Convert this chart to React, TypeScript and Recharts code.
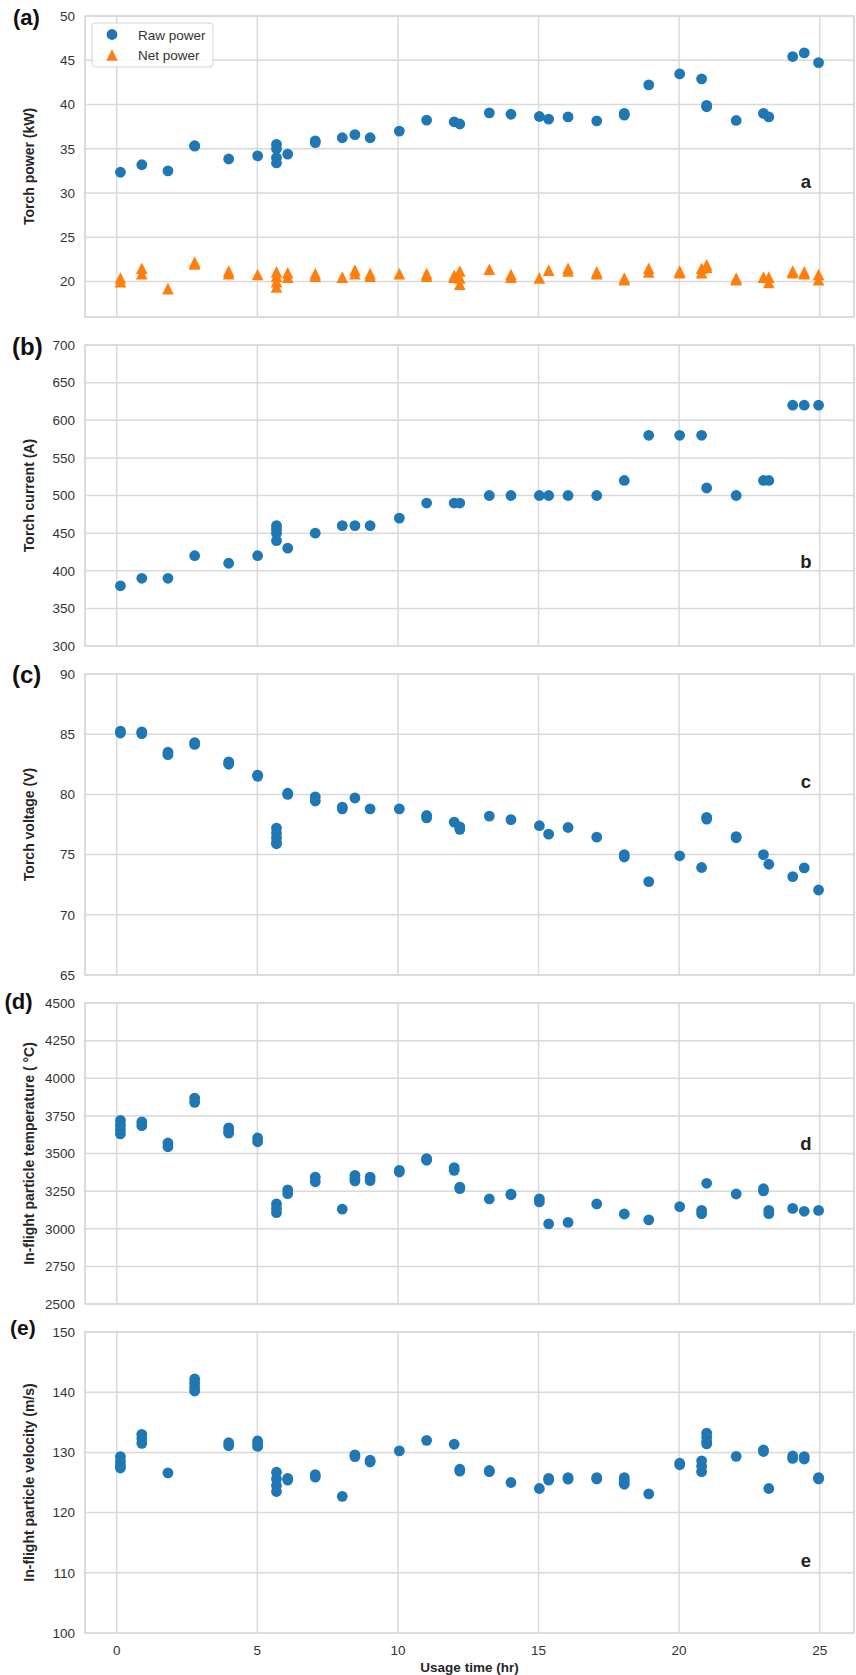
import React from "react";
import { ScatterChart, Scatter, XAxis, YAxis, CartesianGrid, ReferenceArea, ReferenceDot } from "recharts";

// usage time (hr) of each measurement session
const times = [
  0.13, 0.89, 1.82, 2.77, 3.98, 5.01, 5.68, 6.08, 7.06, 8.02, 8.47, 9.01, 10.05, 11.02, 12.0, 12.2, 13.25,
  14.02, 15.03, 15.36, 16.05, 17.07, 18.05, 18.92, 20.02, 20.8, 20.98, 22.03, 23.0, 23.19, 24.04, 24.45, 24.96,
];

// readings per session (several repeats overlap)
const rawPower = [
  [32.35], [33.2], [32.5], [35.35, 35.3], [33.85], [34.2], [35.5, 35.0, 34.0, 33.4], [34.4], [35.9, 35.7],
  [36.25], [36.6], [36.25], [37.0], [38.24], [38.05], [37.8], [39.06], [38.9], [38.65], [38.35], [38.6],
  [38.16], [39.0, 38.8], [42.22], [43.46], [42.9], [39.9, 39.75], [38.2], [39.0], [38.6], [45.42], [45.83], [44.74],
];
const netPower = [
  [20.4, 20.0], [21.5, 20.9], [19.2], [22.2, 22.0], [21.2, 20.9], [20.8], [21.1, 20.6, 20.0, 19.4], [21.0, 20.5],
  [20.9, 20.6], [20.5], [21.3, 20.9], [20.9, 20.6], [20.9], [20.9, 20.6], [20.7, 20.5], [21.2, 20.4, 19.7], [21.4],
  [20.8, 20.5], [20.4], [21.3], [21.5, 21.2], [21.1, 20.9], [20.4, 20.2], [21.5, 21.1], [21.2, 21.0], [21.5, 21.0],
  [21.9, 21.6], [20.4, 20.2], [20.5], [20.5, 19.9], [21.2, 21.0], [21.1, 20.9], [20.8, 20.2],
];
const current = [
  [380], [390], [390], [420], [410], [420], [460, 455, 450, 440], [430], [450], [460], [460], [460], [470], [490],
  [490], [490], [500], [500], [500], [500], [500], [500], [520], [580], [580], [580], [510], [500], [520], [520],
  [620], [620], [620],
];
const voltage = [
  [85.25, 85.1], [85.2, 85.05], [83.5, 83.3], [84.3, 84.15], [82.7, 82.5], [81.6, 81.5], [77.2, 76.8, 76.4, 76.0, 75.9],
  [80.1, 80.0], [79.8, 79.45], [78.95, 78.8], [79.7], [78.8], [78.8], [78.25, 78.05], [77.7], [77.3, 77.1], [78.2],
  [77.9], [77.4], [76.7], [77.25], [76.45], [75.0, 74.8], [72.75], [74.9], [73.93], [78.1, 77.95], [76.5, 76.4],
  [75.0], [74.2], [73.17], [73.9], [72.06],
];
const temperature = [
  [3720, 3690, 3660, 3630], [3710, 3685], [3570, 3545], [3868, 3840], [3670, 3650, 3635], [3603, 3578],
  [3165, 3135, 3107], [3258, 3233], [3343, 3312], [3130], [3355, 3335, 3318], [3343, 3320], [3388, 3377],
  [3466, 3455], [3406, 3388], [3277, 3266], [3198], [3230, 3226], [3199, 3178], [3032], [3042], [3165], [3098],
  [3059], [3147], [3122, 3100], [3302], [3231], [3266, 3252], [3122, 3100], [3135], [3116], [3122],
];
const velocity = [
  [129.3, 128.5, 127.8, 127.4], [133.0, 132.3, 131.5], [126.6], [142.2, 141.5, 140.8, 140.2], [131.6, 131.1],
  [131.9, 131.4, 131.0], [126.7, 125.6, 124.5, 123.5], [125.7, 125.4], [126.3, 125.9], [122.7], [129.6, 129.3],
  [128.7, 128.4], [130.25], [132.0], [131.35], [127.2, 126.9], [127.0, 126.8], [125.0], [124.0], [125.7, 125.4],
  [125.8, 125.55], [125.8, 125.6], [125.8, 125.2, 124.7], [123.1], [128.2, 127.95], [128.6, 127.7, 126.8],
  [133.2, 132.5, 131.8, 131.4], [129.35], [130.4, 130.15], [124.0], [129.4, 129.0], [129.3, 128.9], [125.8, 125.6],
];

const xTicks = [0, 5, 10, 15, 20, 25];
const powerTicks = [20, 25, 30, 35, 40, 45, 50];
const currentTicks = [300, 350, 400, 450, 500, 550, 600, 650, 700];
const voltageTicks = [65, 70, 75, 80, 85, 90];
const tempTicks = [2500, 2750, 3000, 3250, 3500, 3750, 4000, 4250, 4500];
const velocityTicks = [100, 110, 120, 130, 140, 150];

const BLUE = "#1f77b4";
const ORANGE = "#ff7f0e";
const GRID = "#d9d9d9";
const FONT = '"Liberation Sans", Arial, Helvetica, sans-serif';
const X_DOMAIN: [number, number] = [-1.13, 26.22];
const NOTE_X = 24.51;

function toRows(values: number[][]) {
  return times.flatMap((t, i) => values[i].map((v) => ({ t, v })));
}

const circle = (fill: string) => (p: any) => <circle cx={p.cx} cy={p.cy} r={5.4} fill={fill} />;
const triangle = (fill: string) => (p: any) => {
  const s = 5.8;
  return <polygon points={`${p.cx},${p.cy - s} ${p.cx - s},${p.cy + s} ${p.cx + s},${p.cy + s}`} fill={fill} />;
};
const noTick = () => <g />;

const yTitle = (text: string) => (p: any) => {
  const vb = p.viewBox;
  const cy = vb.y + vb.height / 2;
  return (
    <text x={34} y={cy} transform={`rotate(-90, 34, ${cy})`} textAnchor="middle" fontSize={14}
      fontWeight="bold" fill="#262626" fontFamily={FONT}>
      {text}
    </text>
  );
};

const xTitle = (p: any) => {
  const vb = p.viewBox;
  return (
    <text x={vb.x + vb.width / 2} y={vb.y + 38.5} textAnchor="middle" fontSize={13.5} fontWeight="bold"
      fill="#262626" fontFamily={FONT}>
      Usage time (hr)
    </text>
  );
};

type Series = { values: number[][]; color: string; kind: "circle" | "triangle"; name: string };

function Panel(props: {
  tag: string; tagX: number; tagY: number; tagSize: number; title: string;
  domain: [number, number]; ticks: number[]; series: Series[]; note: string; noteY: number;
  bottomAxis?: boolean; legend?: boolean;
}) {
  const h = props.bottomAxis ? 359 : 329;
  const tickStyle = { fontSize: 13.5, fill: "#333", fontFamily: FONT };
  return (
    <div style={{ position: "relative", width: 856, height: h }}>
      <ScatterChart width={856} height={h} margin={{ top: 16, right: 2, left: 0, bottom: props.bottomAxis ? 0 : 11 }}>
        <CartesianGrid stroke={GRID} strokeWidth={1.5} />
        <XAxis dataKey="t" type="number" domain={X_DOMAIN} allowDataOverflow ticks={xTicks}
          height={props.bottomAxis ? 42 : 1} tick={props.bottomAxis ? tickStyle : noTick}
          tickLine={false} axisLine={false} tickSize={6} tickMargin={6}
          label={props.bottomAxis ? xTitle : undefined} />
        <YAxis dataKey="v" type="number" domain={props.domain} allowDataOverflow ticks={props.ticks}
          width={85} tick={tickStyle} tickLine={false} axisLine={false} tickSize={6} tickMargin={4}
          label={yTitle(props.title)} />
        <ReferenceArea x1={X_DOMAIN[0]} x2={X_DOMAIN[1]} y1={props.domain[0]} y2={props.domain[1]}
          fill="none" fillOpacity={0} stroke={GRID} strokeWidth={1.5} ifOverflow="visible" />
        {props.series.map((s) => (
          <Scatter key={s.name} name={s.name} data={toRows(s.values)} dataKey="v"
            shape={s.kind === "circle" ? circle(s.color) : triangle(s.color)} isAnimationActive={false} />
        ))}
        <ReferenceDot x={NOTE_X} y={props.noteY} r={1} fill="none" stroke="none"
          label={{ value: props.note, position: "center", fontSize: 18.5, fontWeight: "bold", fill: "#222", fontFamily: FONT }} />
      </ScatterChart>
      <svg width={60} height={40} style={{ position: "absolute", left: 0, top: 0 }}>
        <text x={props.tagX} y={props.tagY} fontSize={props.tagSize} fontWeight="bold" fill="#111" fontFamily={FONT}>
          {props.tag}
        </text>
      </svg>
      {props.legend && (
        <svg width={230} height={80} style={{ position: "absolute", left: 0, top: 0 }}>
          <rect x={92} y={23} width={121} height={44} rx={3} fill="#fff" fillOpacity={0.8} stroke="#d4d4d4" />
          <circle cx={112} cy={34.5} r={5.4} fill={BLUE} />
          <polygon points={`112,${55 - 5.8} ${112 - 5.8},${55 + 5.8} ${112 + 5.8},${55 + 5.8}`} fill={ORANGE} />
          <text x={138} y={39.5} fontSize={13.5} fill="#333" fontFamily={FONT}>Raw power</text>
          <text x={138} y={59.5} fontSize={13.5} fill="#333" fontFamily={FONT}>Net power</text>
        </svg>
      )}
    </div>
  );
}

export default function App() {
  return (
    <div style={{ position: "absolute", left: 0, top: 0, width: 856, height: 1675, background: "#fff" }}>
      <Panel tag="(a)" tagX={13} tagY={25} tagSize={22} title="Torch power (kW)" domain={[16, 50]} ticks={powerTicks}
        series={[
          { values: rawPower, color: BLUE, kind: "circle", name: "Raw power" },
          { values: netPower, color: ORANGE, kind: "triangle", name: "Net power" },
        ]}
        note="a" noteY={31.32} legend />
      <Panel tag="(b)" tagX={12} tagY={26.4} tagSize={24} title="Torch current (A)" domain={[300, 700]} ticks={currentTicks}
        series={[{ values: current, color: BLUE, kind: "circle", name: "Current" }]} note="b" noteY={413} />
      <Panel tag="(c)" tagX={12} tagY={25.4} tagSize={24} title="Torch voltage (V)" domain={[65, 90]} ticks={voltageTicks}
        series={[{ values: voltage, color: BLUE, kind: "circle", name: "Voltage" }]} note="c" noteY={81.06} />
      <Panel tag="(d)" tagX={4.5} tagY={21.7} tagSize={22} title="In-flight particle temperature ( °C)" domain={[2500, 4500]}
        ticks={tempTicks} series={[{ values: temperature, color: BLUE, kind: "circle", name: "Temperature" }]}
        note="d" noteY={3569} />
      <Panel tag="(e)" tagX={10} tagY={19.4} tagSize={21} title="In-flight particle velocity (m/s)" domain={[100, 150]}
        ticks={velocityTicks} series={[{ values: velocity, color: BLUE, kind: "circle", name: "Velocity" }]}
        note="e" noteY={112.1} bottomAxis />
    </div>
  );
}
